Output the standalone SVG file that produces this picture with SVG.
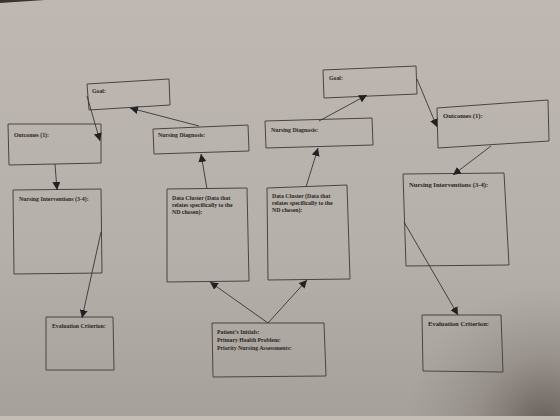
<svg xmlns="http://www.w3.org/2000/svg" width="560" height="420" viewBox="0 0 560 420">
<defs>
<linearGradient id="bg" x1="0" y1="0" x2="0" y2="1">
<stop offset="0" stop-color="#bfb8b2"/>
<stop offset="0.6" stop-color="#b6b0aa"/>
<stop offset="1" stop-color="#a6a09a"/>
</linearGradient>
<radialGradient id="shade" cx="545" cy="425" r="140" gradientUnits="userSpaceOnUse">
<stop offset="0" stop-color="#4e4640" stop-opacity="0.75"/>
<stop offset="0.5" stop-color="#6e6660" stop-opacity="0.3"/>
<stop offset="1" stop-color="#8a837d" stop-opacity="0"/>
</radialGradient>
<marker id="ah" markerUnits="userSpaceOnUse" markerWidth="9" markerHeight="8" refX="8" refY="4" orient="auto">
<path d="M0,0 L8,4 L0,8 Z" fill="#222"/>
</marker>
<style>
.box{fill:none;stroke:#4a4541;stroke-width:1}
.t{font-family:"Liberation Serif",serif;font-weight:bold;font-size:5.8px;fill:#2a2522}
.tr{font-family:"Liberation Serif",serif;font-weight:bold;font-size:6.6px;fill:#2a2522}
.c{fill:none;stroke:#3a3532;stroke-width:0.9;marker-end:url(#ah)}
</style>
</defs>
<rect width="560" height="420" fill="url(#bg)"/>
<rect width="560" height="420" fill="url(#shade)"/>
<rect x="0" y="416" width="560" height="4" fill="#c4bdb6"/>
<path d="M0,0 L45,0 L0,3 Z" fill="#3a3430"/>

<g id="goal-left"><polygon class="box" points="87,84 169,79 170,105 89,110"/><text class="t" x="92" y="93">Goal:</text></g>
<g id="outcomes-left"><polygon class="box" points="8,124 101,124 101,163 9,165"/><text class="t" x="14" y="137">Outcomes (1):</text></g>
<g id="ni-left"><polygon class="box" points="13,190 101,189 102,273 14,274"/><text class="t" x="19" y="201">Nursing Interventions (3-4):</text></g>
<g id="nd-left"><polygon class="box" points="153,129 248,125 249,151 154,154"/><text class="t" x="158" y="137">Nursing Diagnosis:</text></g>
<g id="dc-left"><polygon class="box" points="167,189 247,188 249,281 167,282"/><text class="t" x="172" y="200">Data Cluster (Data that</text><text class="t" x="172" y="207">relates specifically to the</text><text class="t" x="172" y="214">ND chosen):</text></g>
<g id="dc-right"><polygon class="box" points="267,188 347,185 350,279 268,280"/><text class="t" x="272" y="198">Data Cluster (Data that</text><text class="t" x="272" y="205">relates specifically to the</text><text class="t" x="272" y="212">ND chosen):</text></g>
<g id="nd-right"><polygon class="box" points="265,121 372,118 373,145 266,148"/><text class="t" x="271" y="132">Nursing Diagnosis:</text></g>
<g id="goal-right"><polygon class="box" points="323,70 416,66 417,94 324,98"/><text class="t" x="329" y="80">Goal:</text></g>
<g id="outcomes-right"><polygon class="box" points="437,108 548,100 549,141 438,148"/><text class="tr" x="443" y="118">Outcomes (1):</text></g>
<g id="ni-right"><polygon class="box" points="403,174 504,173 509,265 406,266"/><text class="tr" x="409" y="187">Nursing Interventions (3-4):</text></g>
<g id="eval-left"><polygon class="box" points="46,317 113,317 114,370 46,370"/><text class="t" x="52" y="328">Evaluation Criterion:</text></g>
<g id="patient"><polygon class="box" points="212,323 324,323 326,376 213,377"/><text class="t" x="217" y="334">Patient’s Initials:</text><text class="t" x="217" y="342">Primary Health Problem:</text><text class="t" x="217" y="350">Priority Nursing Assessments:</text></g>
<g id="eval-right"><polygon class="box" points="422,315 501,315 503,372 423,371"/><text class="tr" x="428" y="326">Evaluation Criterion:</text></g>

<g id="connectors">
<line class="c" x1="87" y1="96" x2="100" y2="141"/>
<line class="c" x1="199" y1="126" x2="130" y2="108"/>
<line class="c" x1="55" y1="164" x2="57" y2="190"/>
<line class="c" x1="207" y1="189" x2="201" y2="154"/>
<line class="c" x1="101" y1="232" x2="82" y2="318"/>
<line class="c" x1="268" y1="323" x2="210" y2="282"/>
<line class="c" x1="268" y1="323" x2="307" y2="280"/>
<line class="c" x1="306" y1="187" x2="318" y2="148"/>
<line class="c" x1="319" y1="121" x2="367" y2="95"/>
<line class="c" x1="417" y1="79" x2="437" y2="127"/>
<line class="c" x1="491" y1="146" x2="453" y2="175"/>
<line class="c" x1="404" y1="222" x2="458" y2="315"/>
</g>
</svg>
